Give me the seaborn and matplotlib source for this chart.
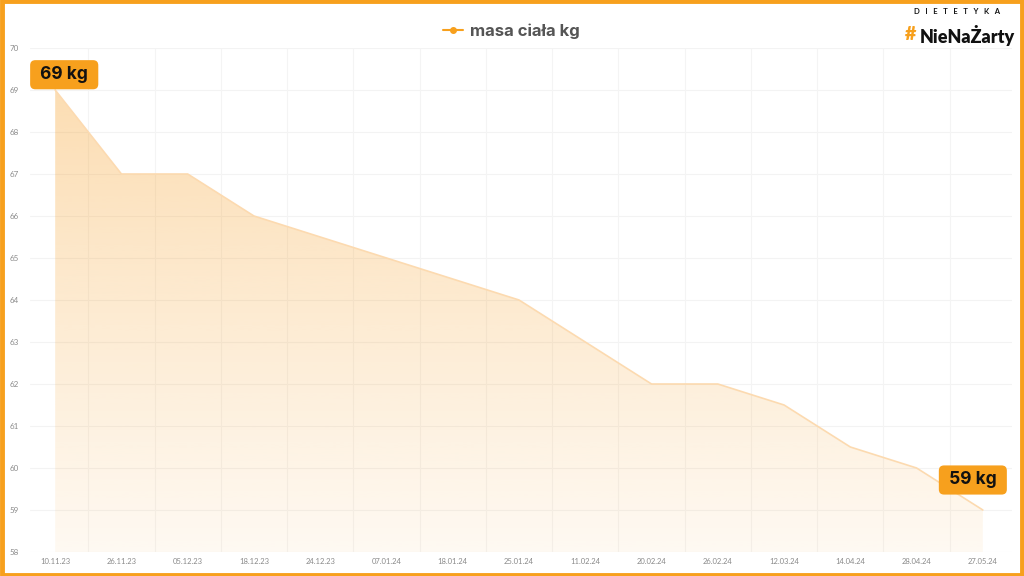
import numpy as np
import pandas as pd
import matplotlib
matplotlib.use("Agg")
import matplotlib.pyplot as plt
from matplotlib.patches import Rectangle, Polygon
import seaborn as sns

dates = ['10.11.23', '26.11.23', '05.12.23', '18.12.23', '24.12.23', '07.01.24',
         '18.01.24', '25.01.24', '11.02.24', '20.02.24', '26.02.24', '12.03.24',
         '14.04.24', '28.04.24', '27.05.24']
weights = [69, 67, 67, 66, 65.5, 65, 64.5, 64, 63, 62, 62, 61.5, 60.5, 60, 59]
series_name = 'masa ciała kg'
y_ticks = list(range(58, 71))

ORANGE = '#f7a01d'

sns.set_theme(style='white')
plt.rcParams['font.family'] = ['Lato', 'DejaVu Sans']

df = pd.DataFrame({'idx': np.arange(len(dates)), 'date': dates, 'kg': weights})

fig = plt.figure(figsize=(10.24, 5.76), dpi=100)
fig.patch.set_facecolor('white')
ax = fig.add_axes([30 / 1024, 24 / 576, 982 / 1024, 504 / 576])
ax.set_facecolor('white')

xmin, xmax = -0.38, 14.44
ax.set_xlim(xmin, xmax)
ax.set_ylim(58, 70)

# grid
for y in y_ticks:
    ax.axhline(y, color='#f3f3f3', lw=0.8, zorder=0)
for x in np.arange(0.5, len(dates), 1.0):
    ax.axvline(x, color='#f4f4f4', lw=0.8, zorder=0)

# gradient fill under the line
verts = [(df.idx.iloc[0], 58)] + list(zip(df.idx, df.kg)) + [(df.idx.iloc[-1], 58)]
poly = Polygon(verts, closed=True, facecolor='none', edgecolor='none')
ax.add_patch(poly)
n = 256
alphas = np.linspace(0.06, 0.38, n)[:, None]
grad = np.zeros((n, 1, 4))
grad[..., 0] = 247 / 255
grad[..., 1] = 160 / 255
grad[..., 2] = 40 / 255
grad[..., 3] = alphas
im = ax.imshow(grad, extent=[xmin, xmax, 58, 70], origin='lower', aspect='auto',
               interpolation='bicubic', zorder=1)
im.set_clip_path(poly)

sns.lineplot(data=df, x='idx', y='kg', ax=ax, color='#fcdab0', lw=1.2, zorder=2,
             legend=False)

ax.set_xticks(df.idx)
ax.set_xticklabels(dates, fontsize=5.5, color='#8a8a8a')
ax.set_yticks(y_ticks)
ax.set_yticklabels([str(v) for v in y_ticks], fontsize=5.8, color='#8a8a8a')
ax.tick_params(axis='both', length=0, pad=4)
ax.tick_params(axis='y', pad=8)
ax.set_xlabel('')
ax.set_ylabel('')
for s in ax.spines.values():
    s.set_visible(False)

# value labels
bbox = dict(boxstyle='round,pad=0.35,rounding_size=0.3', fc=ORANGE, ec='none')
ax.annotate(f' {weights[0]:g} kg ', xy=(df.idx.iloc[0], weights[0]), xytext=(6.5, 11),
            textcoords='offset points', ha='center', va='center', fontsize=12.5,
            fontweight='bold', color='#111111', bbox=bbox, zorder=5,
            family=['Inter', 'DejaVu Sans'])
ax.annotate(f' {weights[-1]:g} kg ', xy=(df.idx.iloc[-1], weights[-1]), xytext=(-7.2, 21.6),
            textcoords='offset points', ha='center', va='center', fontsize=12.5,
            fontweight='bold', color='#111111', bbox=bbox, zorder=5,
            family=['Inter', 'DejaVu Sans'])

# legend
ax.legend(handles=[plt.Line2D([], [], color=ORANGE, marker='o', markersize=4, lw=1.5)],
          labels=[series_name], loc='center', bbox_to_anchor=(0.49, 1 + 17 / 504),
          frameon=False, handlelength=1.2, handletextpad=0.4,
          prop={'weight': 'bold', 'size': 12, 'family': ['Inter', 'DejaVu Sans']})
for t in ax.get_legend().get_texts():
    t.set_color('#555555')

# logo
fig.text(957 / 1024, 1 - 12 / 576, '   '.join('DIETETYKA'), ha='center', va='center',
         fontsize=5.5, fontweight='bold', color='#111111')
fig.text(905 / 1024, 1 - 34 / 576, '#', ha='left', va='center', fontsize=14,
         fontweight='heavy', color=ORANGE)
fig.text(1015 / 1024, 1 - 35 / 576, 'NieNaŻarty', ha='right', va='center', fontsize=13,
         fontweight='heavy', color='#111111')

# frame
fig.patches.append(Rectangle((0.0015, 0.0025), 0.997, 0.995, transform=fig.transFigure,
                             fill=False, ec=ORANGE, lw=3.5, zorder=10))

fig.savefig('out.png', dpi=100, facecolor='white')
